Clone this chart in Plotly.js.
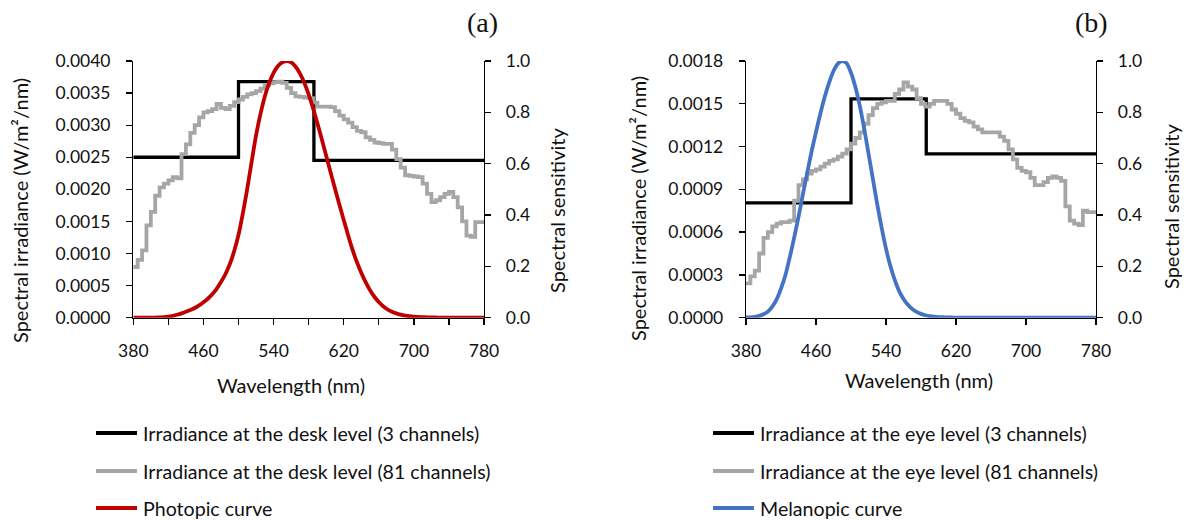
<!DOCTYPE html>
<html>
<head>
<meta charset="utf-8">
<script src="https://cdn.plot.ly/plotly-3.0.1.min.js"></script>
<style>
  html, body { margin: 0; padding: 0; background: #fff; }
  #chart { width: 1186px; height: 520px; }
</style>
</head>
<body>
<div id="chart"></div>
<script>
// Wavelength grid shared by the 81-channel spectra and the action spectra (nm)
const wavelengths = [];
for (let w = 380; w <= 780; w += 5) wavelengths.push(w);

// 3-channel (band-averaged) irradiance: band edges and levels, W/m²/nm
const bandEdges = [380, 500, 586, 780];
const deskBands = [0.00250, 0.00368, 0.00245, 0.00245];
const eyeBands  = [0.000805, 0.001534, 0.001149, 0.001149];

// 81-channel irradiance at the desk level, W/m²/nm
const desk81 = [
  0.00079, 0.00090, 0.00105, 0.00144, 0.00165, 0.00190, 0.00203, 0.00209, 0.00214, 0.00219,
  0.00217, 0.00255, 0.00270, 0.00288, 0.00300, 0.00312, 0.00320, 0.00322, 0.00325, 0.00333,
  0.00327, 0.00325, 0.00330, 0.00336, 0.00340, 0.00344, 0.00348, 0.00350, 0.00353, 0.00357,
  0.00362, 0.00365, 0.00367, 0.00368, 0.00366, 0.00358, 0.00350, 0.00345, 0.00344, 0.00343,
  0.00342, 0.00335, 0.00329, 0.00329, 0.00329, 0.00328, 0.00322, 0.00315, 0.00309, 0.00304,
  0.00297, 0.00291, 0.00289, 0.00281, 0.00277, 0.00273, 0.00272, 0.00271, 0.00271, 0.00262,
  0.00247, 0.00234, 0.00222, 0.00221, 0.00220, 0.00219, 0.00209, 0.00193, 0.00180, 0.00183,
  0.00188, 0.00193, 0.00196, 0.00188, 0.00172, 0.00150, 0.00128, 0.00126, 0.00149, 0.00149,
  0.00146
];

// 81-channel irradiance at the eye level, W/m²/nm
const eye81 = [
  0.00024, 0.00029, 0.00033, 0.00045, 0.00056, 0.00060, 0.00064, 0.00066, 0.00067, 0.00067,
  0.00068, 0.00082, 0.00093, 0.00097, 0.00101, 0.00103, 0.00104, 0.00106, 0.00108, 0.00110,
  0.00111, 0.00113, 0.00115, 0.00118, 0.00122, 0.00126, 0.00130, 0.00136, 0.00142, 0.00147,
  0.00150, 0.00151, 0.00152, 0.00152, 0.00157, 0.00160, 0.00165, 0.00162, 0.00160, 0.00154,
  0.00150, 0.00148, 0.00150, 0.00152, 0.00152, 0.00152, 0.00150, 0.00146, 0.00143, 0.00140,
  0.00138, 0.00137, 0.00134, 0.00132, 0.00130, 0.00130, 0.00130, 0.00130, 0.00127, 0.00124,
  0.00118, 0.00111, 0.00105, 0.00103, 0.00102, 0.00098, 0.00093, 0.00093, 0.00095, 0.00098,
  0.00099, 0.00098, 0.00096, 0.00078, 0.00068, 0.00066, 0.00065, 0.00075, 0.00074, 0.00074,
  0.00074
];

// Photopic luminous efficiency V(λ), relative
const photopic = [
  0.000039, 0.000064, 0.00012, 0.000217, 0.000396, 0.00064, 0.00121, 0.00218, 0.0040, 0.0073,
  0.0116, 0.01684, 0.023, 0.0298, 0.038, 0.048, 0.060, 0.0739, 0.09098, 0.1126,
  0.13902, 0.1693, 0.20802, 0.2586, 0.323, 0.4073, 0.503, 0.6082, 0.710, 0.7932,
  0.862, 0.91485, 0.954, 0.9803, 0.99495, 1.0, 0.995, 0.9786, 0.952, 0.9154,
  0.870, 0.8163, 0.757, 0.6949, 0.631, 0.5668, 0.503, 0.4412, 0.381, 0.321,
  0.265, 0.217, 0.175, 0.1382, 0.107, 0.0816, 0.061, 0.04458, 0.032, 0.0232,
  0.017, 0.01192, 0.00821, 0.005723, 0.004102, 0.002929, 0.002091, 0.001484, 0.001047, 0.00074,
  0.00052, 0.000361, 0.000249, 0.000172, 0.00012, 0.0000848, 0.00006, 0.0000424, 0.00003, 0.0000212,
  0.0000149
];

// Melanopic action spectrum, relative
const melanopic = [
  0.000918, 0.00167, 0.003623, 0.00706, 0.01327, 0.02375, 0.04271, 0.07138, 0.1130, 0.1650,
  0.2348, 0.3114, 0.3926, 0.4799, 0.5653, 0.6484, 0.7235, 0.7953, 0.8604, 0.9160,
  0.9611, 0.9899, 1.0, 0.9912, 0.9543, 0.8985, 0.8259, 0.7372, 0.6397, 0.5403,
  0.4414, 0.3509, 0.2690, 0.2010, 0.1469, 0.1034, 0.0730, 0.0503, 0.03371, 0.0224,
  0.01480, 0.00968, 0.006261, 0.00403, 0.002604, 0.00168, 0.00109, 0.00071, 0.000462, 0.0003,
  0.0002, 0.00013, 0.000089, 0.00006, 0.00004, 0.00003, 0.00002, 0.00001, 0.00001, 0,
  0, 0, 0, 0, 0, 0, 0, 0, 0, 0,
  0, 0, 0, 0, 0, 0, 0, 0, 0, 0,
  0
];

// Legend entries, axis titles and panel labels
const namesA = ['Irradiance at the desk level (3 channels)', 'Irradiance at the desk level (81 channels)', 'Photopic curve'];
const namesB = ['Irradiance at the eye level (3 channels)', 'Irradiance at the eye level (81 channels)', 'Melanopic curve'];
const panelLabels = ['(a)', '(b)'];
const xTitle = 'Wavelength (nm)';
const yTitleLeft = 'Spectral irradiance (W/m²/nm)';
const yTitleRight = 'Spectral sensitivity';

// Tick labels
const xTicksA = [380, 420, 460, 500, 540, 580, 620, 660, 700, 740, 780];
const xTickTextA = ['380', '', '460', '', '540', '', '620', '', '700', '', '780'];
const xTicksB = [380, 460, 540, 620, 700, 780];

const colors = ['#000000', '#A6A6A6', '#C00000', '#4472C4'];

const W = 1186, H = 520;
const FONT = 'Lato, "Open Sans", sans-serif';
const SERIF = '"Liberation Serif", "Times New Roman", serif';
const TXT = '#111111';

// plot-area boxes in pixels
const boxA = { x0: 133.3, x1: 484, y0: 61, y1: 317.7 };
const boxB = { x0: 746, x1: 1096, y0: 61, y1: 317.7 };
const dx = b => [b.x0 / W, b.x1 / W];
const dy = b => [1 - b.y1 / H, 1 - b.y0 / H];
const px = v => v / W;
const py = v => 1 - v / H;

const traces = [
  // panel (a)
  { x: bandEdges, y: deskBands, xaxis: 'x', yaxis: 'y', mode: 'lines', line: { shape: 'hv', color: colors[0], width: 3.3 }, name: namesA[0] },
  { x: wavelengths, y: desk81, xaxis: 'x', yaxis: 'y', mode: 'lines', line: { shape: 'hv', color: colors[1], width: 3.8 }, name: namesA[1] },
  { x: wavelengths, y: photopic, xaxis: 'x', yaxis: 'y2', mode: 'lines', line: { shape: 'spline', smoothing: 0.6, color: colors[2], width: 3.8 }, name: namesA[2] },
  // panel (b)
  { x: bandEdges, y: eyeBands, xaxis: 'x2', yaxis: 'y3', mode: 'lines', line: { shape: 'hv', color: colors[0], width: 3.3 }, name: namesB[0] },
  { x: wavelengths, y: eye81, xaxis: 'x2', yaxis: 'y3', mode: 'lines', line: { shape: 'hv', color: colors[1], width: 3.8 }, name: namesB[1] },
  { x: wavelengths, y: melanopic, xaxis: 'x2', yaxis: 'y4', mode: 'lines', line: { shape: 'spline', smoothing: 0.6, color: colors[3], width: 3.8 }, name: namesB[2] }
];

const tickFont = { family: FONT, size: 17.5, color: TXT };

function baseAxis(extra) {
  return Object.assign({
    showgrid: false, zeroline: false, showline: true, linecolor: '#000', linewidth: 1.3,
    ticks: 'outside', ticklen: 6, tickwidth: 1.3, tickcolor: '#000',
    tickfont: tickFont, fixedrange: true
  }, extra);
}
// inner half of the crossing tick marks
function innerTicks(extra) {
  return Object.assign({
    showgrid: false, zeroline: false, showline: false, showticklabels: false,
    ticks: 'inside', ticklen: 5, tickwidth: 1.3, tickcolor: '#000', fixedrange: true
  }, extra);
}

const layout = {
  width: W, height: H,
  margin: { l: 0, r: 0, t: 0, b: 0 },
  paper_bgcolor: '#fff', plot_bgcolor: 'rgba(0,0,0,0)',
  showlegend: false,
  font: { family: FONT, color: TXT },

  xaxis: baseAxis({ domain: dx(boxA), anchor: 'y', range: [380, 780], tickmode: 'array', tickvals: xTicksA, ticktext: xTickTextA, ticklabelstandoff: 11 }),
  yaxis: baseAxis({ domain: dy(boxA), anchor: 'x', range: [0, 0.004], dtick: 0.0005, tickformat: '.4f', ticklabelstandoff: 12 }),
  yaxis2: baseAxis({ domain: dy(boxA), anchor: 'x', overlaying: 'y', side: 'right', range: [0, 1], dtick: 0.2, tickformat: '.1f', ticklabelstandoff: 11 }),

  xaxis2: baseAxis({ domain: dx(boxB), anchor: 'y3', range: [380, 780], tickmode: 'array', tickvals: xTicksB, ticklabelstandoff: 11 }),
  yaxis3: baseAxis({ domain: dy(boxB), anchor: 'x2', range: [0, 0.0018], dtick: 0.0003, tickformat: '.4f', ticklabelstandoff: 12 }),
  yaxis4: baseAxis({ domain: dy(boxB), anchor: 'x2', overlaying: 'y3', side: 'right', range: [0, 1], dtick: 0.2, tickformat: '.1f', ticklabelstandoff: 11 }),

  // crossing tick marks (inner halves)
  xaxis3: innerTicks({ overlaying: 'x', anchor: 'y', range: [380, 780], tickmode: 'array', tickvals: xTicksA }),
  yaxis5: innerTicks({ overlaying: 'y', anchor: 'x', range: [0, 0.004], dtick: 0.0005 }),
  yaxis6: innerTicks({ overlaying: 'y', anchor: 'x', side: 'right', range: [0, 1], dtick: 0.2 }),
  xaxis4: innerTicks({ overlaying: 'x2', anchor: 'y3', range: [380, 780], tickmode: 'array', tickvals: xTicksB }),
  yaxis7: innerTicks({ overlaying: 'y3', anchor: 'x2', range: [0, 0.0018], dtick: 0.0003 }),
  yaxis8: innerTicks({ overlaying: 'y3', anchor: 'x2', side: 'right', range: [0, 1], dtick: 0.2 }),

  shapes: [],
  annotations: []
};

function addText(text, x, y, size, family, angle) {
  layout.annotations.push({
    text: text, xref: 'paper', yref: 'paper', x: px(x), y: py(y), xanchor: 'center', yanchor: 'middle',
    showarrow: false, textangle: angle || 0, font: { family: family, size: size, color: TXT }
  });
}

// panel labels
addText(panelLabels[0], 482, 23, 28, SERIF);
addText(panelLabels[1], 1091, 23, 28, SERIF);

// axis titles
addText(xTitle, 291, 385, 20, FONT);
addText(yTitleLeft, 20, 211, 20, FONT, -90);
addText(yTitleRight, 557, 211, 20, FONT, -90);
addText(xTitle, 919, 380, 20, FONT);
addText(yTitleLeft, 638, 209, 20, FONT, -90);
addText(yTitleRight, 1171, 207, 20, FONT, -90);

// legends under each panel
const legendRows = [433, 471, 508];
function addLegend(names, cols, x0) {
  names.forEach((n, i) => {
    const yp = py(legendRows[i]);
    layout.shapes.push({ type: 'line', xref: 'paper', yref: 'paper', x0: px(x0), x1: px(x0 + 41), y0: yp, y1: yp,
      line: { color: cols[i], width: 3.8 } });
    layout.annotations.push({ text: n, xref: 'paper', yref: 'paper', x: px(x0 + 45), y: yp, xanchor: 'left', yanchor: 'middle',
      showarrow: false, font: { family: FONT, size: 19.6, color: TXT } });
  });
}
addLegend(namesA, [colors[0], colors[1], colors[2]], 96);
addLegend(namesB, [colors[0], colors[1], colors[3]], 713);

Plotly.newPlot('chart', traces, layout, { staticPlot: true, displayModeBar: false });
</script>
</body>
</html>
